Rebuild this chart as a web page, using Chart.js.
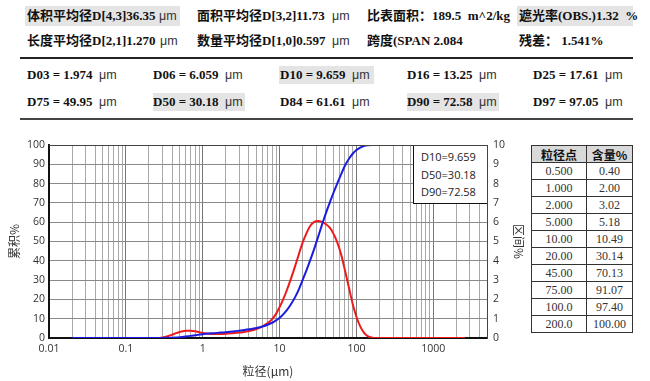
<!DOCTYPE html>
<html><head><meta charset="utf-8">
<script src="https://cdn.jsdelivr.net/npm/chart.js@4/dist/chart.umd.min.js"></script>
<style>
html,body{margin:0;padding:0;background:#fff;}
body{width:650px;height:381px;position:relative;overflow:hidden;font-family:"Liberation Serif","Noto Sans CJK SC",serif;}
.t{position:absolute;font-weight:bold;font-size:13px;line-height:16px;white-space:pre;color:#111;}
.u{position:absolute;font-family:"Liberation Sans",sans-serif;font-weight:normal;font-size:12.5px;line-height:16px;color:#333;white-space:pre;}
.hl{position:absolute;background:#e4e4e4;}
.rule{position:absolute;left:20px;width:613px;background:#222;}
#wrap{position:absolute;left:0;top:125px;width:530px;height:256px;}
#anno{position:absolute;background:#fff;border-left:1px solid #111;border-bottom:1px solid #111;font-family:"Open Sans",sans-serif;font-size:11px;color:#222;box-sizing:border-box;}
#anno div{position:absolute;left:7px;line-height:14px;white-space:pre;}
table{position:absolute;left:531px;top:145px;border-collapse:collapse;width:102px;}
td,th{border:1.5px solid #333;height:16px;padding:0;text-align:center;font-size:12px;line-height:15px;color:#333;font-family:"Liberation Serif",serif;}
th{background:#d9d9d9;font-family:"Noto Sans CJK SC",sans-serif;font-weight:bold;color:#111;font-size:12px;}
</style></head>
<body>
<div id="hdr"></div>
<div class="rule" style="top:57px;height:2px;"></div>
<div class="rule" style="top:118px;height:1.5px;background:#444;"></div>
<div id="wrap"><canvas id="c"></canvas></div>
<div id="anno"></div>
<table id="tbl"></table>
<script>
// ---- chart data ----
const sizes      = [0.02,0.03,0.05,0.07,0.1,0.15,0.2,0.25,0.3,0.35,0.4,0.45,0.5,0.6,0.7,0.8,0.9,1.0,1.2,1.4,1.7,2.0,2.5,3,3.5,4,5,6,7,8,9,10,11,12.5,14,16,18,20,22.5,25,28,31.5,35.5,40,45,50,56,63,71,80,90,100,112,125,140,160,180,200,250,315,500,1000,2000,2600];
const cumulative = [0,0,0,0,0,0,0,0.01,0.03,0.07,0.15,0.26,0.40,0.75,1.1,1.45,1.75,2.0,2.3,2.5,2.8,3.02,3.4,3.8,4.15,4.5,5.18,5.95,6.85,7.9,9.1,10.49,12.0,14.6,17.4,21.3,25.6,30.14,35.3,40.2,45.8,52,58.5,64.6,70.13,75.0,79.8,84.6,89.4,92.9,95.6,97.4,98.7,99.5,99.88,100,100,100,100,100,100,100,100,100];
const interval   = [0,0,0,0,0,0,0,0,0.03,0.09,0.17,0.25,0.31,0.37,0.38,0.35,0.30,0.26,0.22,0.21,0.21,0.22,0.25,0.28,0.32,0.36,0.46,0.6,0.77,0.98,1.25,1.6,1.95,2.5,3.05,3.75,4.4,4.95,5.45,5.8,6.0,6.06,6.02,5.9,5.72,5.42,4.98,4.35,3.5,2.6,1.72,1.1,0.6,0.28,0.1,0.02,0,0,0,0,0,0,0,0];
const xTickLabels = [0.01,0.1,1,10,100,1000];
const leftTicks  = [0,10,20,30,40,50,60,70,80,90,100];
const rightTicks = [0,1,2,3,4,5,6,7,8,9,10];
const annoLabels = ["D10","D50","D90"];
const annoValues = ["9.659","30.18","72.58"];
// ---- report text data ----
const dLabels = ["D03","D06","D10","D16","D25","D75","D50","D84","D90","D97"];
const dValues = ["1.974","6.059","9.659","13.25","17.61","49.95","30.18","61.61","72.58","97.05"];
const tableSizes    = ["0.500","1.000","2.000","5.000","10.00","20.00","45.00","75.00","100.0","200.0"];
const tableContents = ["0.40","2.00","3.02","5.18","10.49","30.14","70.13","91.07","97.40","100.00"];

// header
const hdr = document.getElementById('hdr');
function add(cls, x, y, txt, extra){const d=document.createElement('div');d.className=cls;d.style.left=x+'px';d.style.top=y+'px';if(txt!==null)d.textContent=txt;if(extra)Object.assign(d.style,extra);hdr.appendChild(d);}
add('hl',25,6,null,{width:'155px',height:'20px'});
add('hl',517,6,null,{width:'116px',height:'20px'});
add('t',27,8,'体积平均径D[4,3]36.35'); add('u',159,8,'μm');
add('t',197,8,'面积平均径D[3,2]11.73'); add('u',332,8,'μm');
add('t',367,8,'比表面积：189.5  m^2/kg');
add('t',519,8,'遮光率(OBS.)1.32  %');
add('t',27,33,'长度平均径D[2,1]1.270'); add('u',160,33,'μm');
add('t',197,33,'数量平均径D[1,0]0.597'); add('u',332,33,'μm');
add('t',367,33,'跨度(SPAN 2.084');
add('t',519,33,'残差： 1.541%');
const colX=[27,153,280,407,533];
const hlD={"D10":[279,374],"D50":[153,245],"D90":[407,499]};
dLabels.forEach((lab,i)=>{
  const row=Math.floor(i/5), x=colX[i%5], y=row?94:67;
  if(hlD[lab]) add('hl',hlD[lab][0],y-1,null,{width:(hlD[lab][1]-hlD[lab][0])+'px',height:'18px'});
  const s=document.createElement('div');s.className='t';s.style.left=x+'px';s.style.top=y+'px';
  s.innerHTML=lab+' = '+dValues[i]+'  <span style="font-family:Liberation Sans,sans-serif;font-weight:normal;font-size:12.5px;color:#333">μm</span>';
  hdr.appendChild(s);
});
// table
const tbl=document.getElementById('tbl');
let h='<tr><th style="width:54px">粒径点</th><th>含量%</th></tr>';
tableSizes.forEach((s,i)=>{h+='<tr><td>'+s+'</td><td>'+tableContents[i]+'</td></tr>';});
tbl.innerHTML=h;

// x ticks (log grid)
const xTicks=[];
for(let e=-2;e<=3;e++){for(let m=1;m<=9;m++){const v=Number((m*Math.pow(10,e)).toPrecision(3));if(v<=5000)xTicks.push(v);}}
const isDecade=v=>xTickLabels.some(d=>Math.abs(d-v)<1e-9*Math.max(1,d));

const tickFont={family:"Open Sans",size:10.5};
const frame={id:'frame',afterDatasetsDraw(c){const a=c.chartArea,g=c.ctx;g.save();g.strokeStyle='#444';g.lineWidth=1;g.beginPath();g.moveTo(a.left,a.top+0.5);g.lineTo(a.right,a.top+0.5);g.stroke();g.restore();}};

const chart=new Chart(document.getElementById('c'),{
  type:'line',
  data:{datasets:[
    {label:'累积%',data:sizes.map((s,i)=>({x:s,y:cumulative[i]})),yAxisID:'y',borderColor:'#1c1ce0',borderWidth:2,pointRadius:0,cubicInterpolationMode:'monotone',fill:false},
    {label:'区间%',data:sizes.map((s,i)=>({x:s,y:interval[i]})),yAxisID:'y2',borderColor:'#ee1a1a',borderWidth:2,pointRadius:0,cubicInterpolationMode:'monotone',fill:false}
  ]},
  options:{
    responsive:true,maintainAspectRatio:false,animation:false,devicePixelRatio:1,
    layout:{padding:{top:20,left:0,right:0,bottom:0}},
    plugins:{legend:{display:false},tooltip:{enabled:false}},
    scales:{
      x:{type:'logarithmic',min:0.01,max:5000,
        afterBuildTicks:s=>{s.ticks=xTicks.map(v=>({value:v}));},
        afterFit:s=>{s.height=43;},
        ticks:{autoSkip:false,maxRotation:0,padding:5,color:'#333',font:tickFont,callback:v=>isDecade(v)?String(v):''},
        grid:{drawTicks:false,color:c=>isDecade(c.tick.value)?'#777':'#a8a8a8',lineWidth:1},
        border:{display:true,color:'#111',width:2},
        title:{display:true,text:'粒径(μm)',color:'#333',font:{family:"Noto Sans CJK SC",size:12},padding:{top:3,bottom:2}}
      },
      y:{position:'left',min:0,max:100,
        afterBuildTicks:s=>{s.ticks=leftTicks.map(v=>({value:v}));},
        afterFit:s=>{s.width=49;},
        ticks:{padding:4,color:'#333',font:tickFont},
        grid:{drawTicks:false,color:'#8a8a8a',lineWidth:1},
        border:{display:true,color:'#111',width:2},
        title:{display:true,text:'累积%',color:'#333',font:{family:"Noto Sans CJK SC",size:12},padding:{top:7,bottom:0}}
      },
      y2:{position:'right',min:0,max:10,
        afterBuildTicks:s=>{s.ticks=rightTicks.map(v=>({value:v}));},
        afterFit:s=>{s.width=43;},
        ticks:{padding:6,color:'#333',font:tickFont},
        grid:{drawOnChartArea:false,drawTicks:false},
        border:{display:true,color:'#444',width:1},
        title:{display:true,text:'区间%',color:'#333',font:{family:"Noto Sans CJK SC",size:12},padding:{top:4,bottom:0}}
      }
    }
  },
  plugins:[frame]
});
// annotation box positioned from the chart area
(function(){
  const a=chart.chartArea, wrap=document.getElementById('wrap');
  const ox=wrap.offsetLeft, oy=wrap.offsetTop;
  const an=document.getElementById('anno');
  const w=74,hh=58;
  an.style.left=(ox+a.right-w)+'px';an.style.top=(oy+a.top+1)+'px';an.style.width=w+'px';an.style.height=hh+'px';
  annoLabels.forEach((l,i)=>{const d=document.createElement('div');d.style.top=(4+i*17.5)+'px';d.textContent=l+'='+annoValues[i];an.appendChild(d);});
})();
</script>
</body></html>
